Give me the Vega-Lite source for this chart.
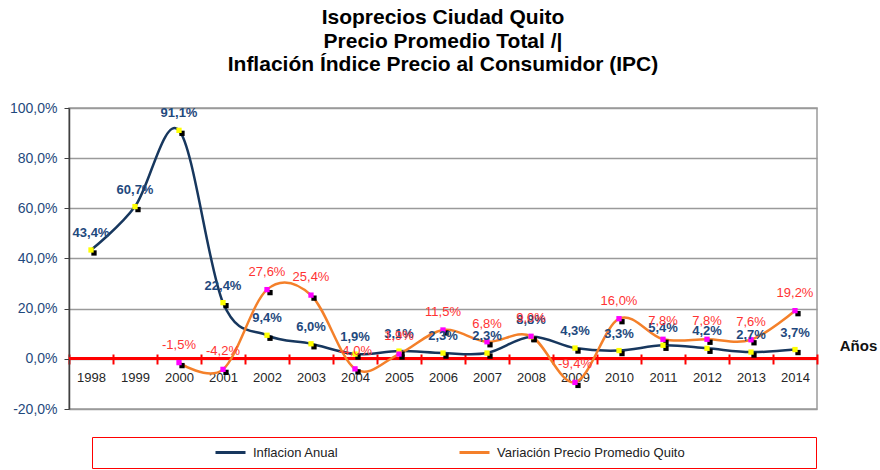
{
  "$schema": "https://vega.github.io/schema/vega-lite/v6.json",
  "width": 748,
  "height": 301,
  "autosize": {"type": "none"},
  "padding": {"left": 69, "top": 108, "right": 63, "bottom": 61},
  "background": "white",
  "config": {
    "locale": {"number": {"decimal": ",", "thousands": ".", "grouping": [3], "currency": ["", " €"], "minus": "-"}},
    "font": "Liberation Sans",
    "view": {"stroke": "#9a9a9a", "strokeWidth": 1.5},
    "legend": {
      "orient": "none",
      "legendX": 23,
      "legendY": 329,
      "direction": "horizontal",
      "strokeColor": "#FF0000",
      "fillColor": "white",
      "padding": 3,
      "symbolType": "stroke",
      "symbolStrokeWidth": 3,
      "symbolSize": 900,
      "clipHeight": 25,
      "symbolOffset": 119,
      "labelOffset": 6,
      "columnPadding": 0,
      "labelLimit": 500,
      "labelFont": "Liberation Sans",
      "labelFontSize": 13,
      "labelColor": "#222222"
    }
  },
  "title": {
    "text": ["Isoprecios Ciudad Quito", "Precio Promedio Total /|", "Inflación Índice Precio al Consumidor (IPC)"],
    "fontSize": 21,
    "fontWeight": "bold",
    "color": "#000000",
    "lineHeight": 23.5,
    "anchor": "middle",
    "frame": "group",
    "offset": 26
  },
  "data": {
    "values": [
      {"year": "1998", "serie": "Inflacion Anual", "value": 0.434},
      {"year": "1999", "serie": "Inflacion Anual", "value": 0.607},
      {"year": "2000", "serie": "Inflacion Anual", "value": 0.911},
      {"year": "2001", "serie": "Inflacion Anual", "value": 0.224},
      {"year": "2002", "serie": "Inflacion Anual", "value": 0.094},
      {"year": "2003", "serie": "Inflacion Anual", "value": 0.060},
      {"year": "2004", "serie": "Inflacion Anual", "value": 0.019},
      {"year": "2005", "serie": "Inflacion Anual", "value": 0.031},
      {"year": "2006", "serie": "Inflacion Anual", "value": 0.023},
      {"year": "2007", "serie": "Inflacion Anual", "value": 0.023},
      {"year": "2008", "serie": "Inflacion Anual", "value": 0.088},
      {"year": "2009", "serie": "Inflacion Anual", "value": 0.043},
      {"year": "2010", "serie": "Inflacion Anual", "value": 0.033},
      {"year": "2011", "serie": "Inflacion Anual", "value": 0.054},
      {"year": "2012", "serie": "Inflacion Anual", "value": 0.042},
      {"year": "2013", "serie": "Inflacion Anual", "value": 0.027},
      {"year": "2014", "serie": "Inflacion Anual", "value": 0.037},
      {"year": "2000", "serie": "Variación Precio Promedio Quito", "value": -0.015},
      {"year": "2001", "serie": "Variación Precio Promedio Quito", "value": -0.042},
      {"year": "2002", "serie": "Variación Precio Promedio Quito", "value": 0.276},
      {"year": "2003", "serie": "Variación Precio Promedio Quito", "value": 0.254},
      {"year": "2004", "serie": "Variación Precio Promedio Quito", "value": -0.040},
      {"year": "2005", "serie": "Variación Precio Promedio Quito", "value": 0.019},
      {"year": "2006", "serie": "Variación Precio Promedio Quito", "value": 0.115},
      {"year": "2007", "serie": "Variación Precio Promedio Quito", "value": 0.068},
      {"year": "2008", "serie": "Variación Precio Promedio Quito", "value": 0.090},
      {"year": "2009", "serie": "Variación Precio Promedio Quito", "value": -0.094},
      {"year": "2010", "serie": "Variación Precio Promedio Quito", "value": 0.160},
      {"year": "2011", "serie": "Variación Precio Promedio Quito", "value": 0.078},
      {"year": "2012", "serie": "Variación Precio Promedio Quito", "value": 0.078},
      {"year": "2013", "serie": "Variación Precio Promedio Quito", "value": 0.076},
      {"year": "2014", "serie": "Variación Precio Promedio Quito", "value": 0.192}
    ]
  },
  "encoding": {
    "x": {
      "field": "year",
      "type": "ordinal",
      "scale": {"type": "band", "paddingInner": 0, "paddingOuter": 0},
      "axis": {
        "title": "Años",
        "offset": -55,
        "domain": false,
        "grid": false,
        "tickColor": "#FF0000",
        "tickWidth": 2,
        "tickSize": 10,
        "tickBand": "extent",
        "labelAngle": 0,
        "labelColor": "#262626",
        "labelFontSize": 13,
        "labelPadding": 7,
        "titleX": 789,
        "titleY": -9,
        "titleFontSize": 15,
        "titleFontWeight": "bold",
        "titleColor": "#111111",
        "titleBaseline": "middle",
        "titleAlign": "center"
      }
    },
    "y": {
      "field": "value",
      "type": "quantitative",
      "scale": {"domain": [-0.2, 1.0], "nice": false},
      "axis": {
        "format": ".1%",
        "values": [-0.2, 0, 0.2, 0.4, 0.6, 0.8, 1.0],
        "title": null,
        "labelColor": "#1F497D",
        "labelFontSize": 14,
        "labelPadding": 7,
        "domainColor": "#404040",
        "domainWidth": 1.5,
        "tickColor": "#404040",
        "tickSize": 5,
        "gridColor": "#9a9a9a",
        "gridWidth": 1.5
      }
    }
  },
  "layer": [
    {
      "mark": {"type": "rule", "color": "#FF0000", "strokeWidth": 2.5},
      "encoding": {"x": null, "y": {"datum": 0, "type": "quantitative"}}
    },
    {
      "mark": {"type": "line", "interpolate": "cardinal", "strokeWidth": 2.5},
      "encoding": {
        "color": {
          "field": "serie",
          "type": "nominal",
          "scale": {"domain": ["Inflacion Anual", "Variación Precio Promedio Quito"], "range": ["#17375E", "#F4802A"]},
          "legend": {
            "title": null,
            "labelExpr": "indexof(datum.label, 'Quito') >= 0 ? datum.label + '\u2003\u2003\u2003\u2003\u2003\u2003\u2003\u2003\u2003\u00a0\u00a0\u00a0\u200b' : datum.label"
          }
        }
      }
    },
    {
      "mark": {"type": "square", "color": "#000000", "size": 28, "opacity": 1, "xOffset": 3, "yOffset": 3}
    },
    {
      "mark": {"type": "square", "size": 28, "opacity": 1, "strokeWidth": 0},
      "encoding": {
        "fill": {
          "field": "serie",
          "type": "nominal",
          "scale": {"domain": ["Inflacion Anual", "Variación Precio Promedio Quito"], "range": ["#FFFF00", "#FF00FF"]},
          "legend": null
        }
      }
    },
    {
      "transform": [{"filter": "datum.serie == 'Inflacion Anual'"}],
      "mark": {"type": "text", "dy": -17, "fontSize": 13, "fontWeight": "bold", "color": "#1F497D"},
      "encoding": {"text": {"field": "value", "type": "quantitative", "format": ".1%"}}
    },
    {
      "transform": [{"filter": "datum.serie != 'Inflacion Anual'"}],
      "mark": {"type": "text", "dy": -18, "fontSize": 13, "color": "#FF3333"},
      "encoding": {"text": {"field": "value", "type": "quantitative", "format": ".1%"}}
    }
  ]
}
